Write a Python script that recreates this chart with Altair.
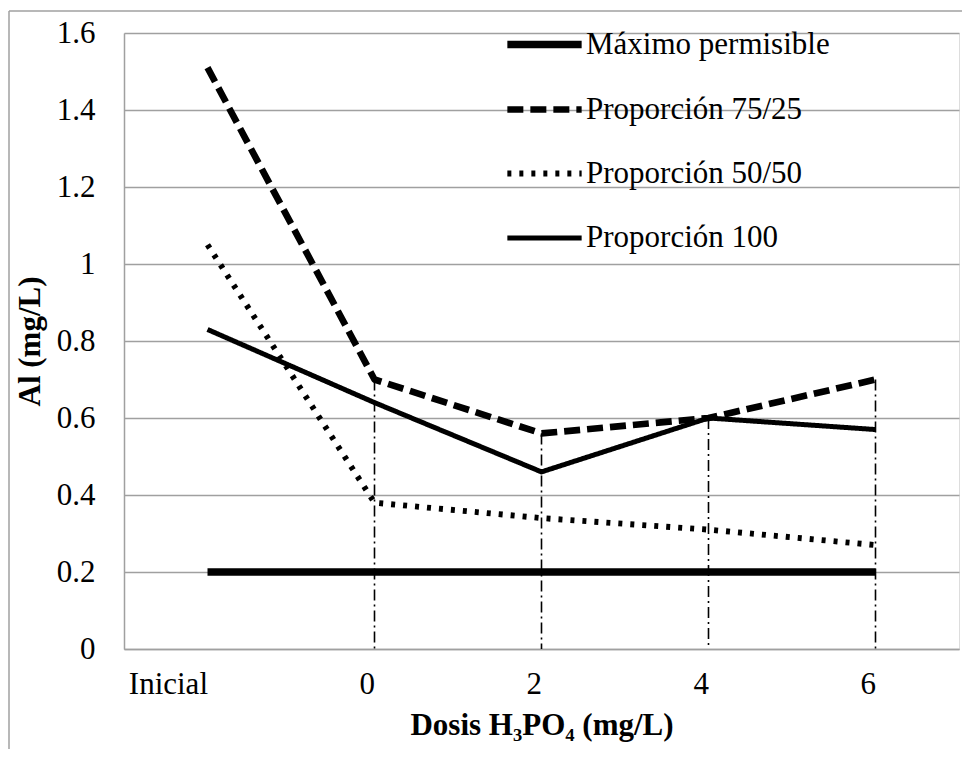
import altair as alt
import pandas as pd

categorias = ["Inicial", "0", "2", "4", "6"]
series = ["Máximo permisible", "Proporción 75/25", "Proporción 50/50", "Proporción 100"]
maximo = [0.2, 0.2, 0.2, 0.2, 0.2]
p7525 = [1.51, 0.70, 0.56, 0.60, 0.70]
p5050 = [1.05, 0.38, 0.34, 0.31, 0.27]
p100 = [0.83, 0.64, 0.46, 0.60, 0.57]
y_ticks = [0, 0.2, 0.4, 0.6, 0.8, 1, 1.2, 1.4, 1.6]

FONT = "Liberation Serif"
FS = 31
GRAY = "#a0a0a0"

rows = []
for s, vals in zip(series, [maximo, p7525, p5050, p100]):
    for c, v in zip(categorias, vals):
        rows.append({"dosis": c, "serie": s, "al": v})
df = pd.DataFrame(rows)

drop_df = pd.DataFrame({
    "dosis": categorias[1:],
    "tope": [max(a, b, c, d) for a, b, c, d in zip(maximo[1:], p7525[1:], p5050[1:], p100[1:])],
})

x_enc = alt.X(
    "dosis:N", sort=categorias,
    scale=alt.Scale(type="point", padding=0.5, domain=categorias),
    axis=alt.Axis(title="Dosis H₃PO₄ (mg/L)", labelAngle=0, grid=False, ticks=False,
                  domain=True, domainColor=GRAY, domainWidth=1.5,
                  labelFont=FONT, labelFontSize=FS, labelColor="black", labelPadding=35,
                  titleFont=FONT, titleFontSize=FS, titleFontWeight="bold", titleColor="black",
                  titlePadding=11),
)
y_enc = alt.Y(
    "al:Q", scale=alt.Scale(domain=[0, 1.6], nice=False, zero=True),
    axis=alt.Axis(title="Al (mg/L)", values=y_ticks, labelExpr="format(datum.value, '~g')",
                  grid=True, gridColor=GRAY, gridWidth=1.5, ticks=False,
                  domain=True, domainColor=GRAY, domainWidth=1.5,
                  labelFont=FONT, labelFontSize=FS, labelColor="black", labelPadding=29,
                  titleFont=FONT, titleFontSize=FS, titleFontWeight="bold", titleColor="black",
                  titlePadding=10),
)

legend = alt.Legend(
    title=None, orient="none", legendX=398, legendY=-11, padding=0,
    symbolType="M-2,0H2", symbolSize=1380, symbolStrokeColor="black",
    labelFont=FONT, labelFontSize=FS, labelColor="black", labelOffset=19,
    labelLimit=400, rowPadding=27.5,
)

lines = alt.Chart(df).mark_line(color="black", strokeJoin="round").encode(
    x=x_enc,
    y=y_enc,
    strokeDash=alt.StrokeDash(
        "serie:N", sort=series,
        scale=alt.Scale(domain=series, range=[[1, 0], [16, 7], [4, 8], [1, 0]]),
        legend=legend),
    strokeWidth=alt.StrokeWidth(
        "serie:N", sort=series,
        scale=alt.Scale(domain=series, range=[7.5, 5, 4, 2]),
        legend=legend),
    detail="serie:N",
)

drops = alt.Chart(drop_df).mark_rule(color="black", strokeWidth=1.6, strokeDash=[11, 4, 2, 4]).encode(
    x=alt.X("dosis:N", sort=categorias),
    y=alt.Y("tope:Q"),
    y2=alt.datum(0),
)

border_left = alt.Chart(alt.Data(values=[{}])).mark_rule(color=GRAY, strokeWidth=1.5).encode(
    x=alt.value(-115), y=alt.value(-22), y2=alt.value(716)
)
border_top = alt.Chart(alt.Data(values=[{}])).mark_rule(color=GRAY, strokeWidth=1.5).encode(
    x=alt.value(-115), x2=alt.value(838), y=alt.value(-22)
)

chart = alt.layer(drops, lines, border_left, border_top).properties(
    width=835, height=616,
    padding={"left": 0, "top": 2, "right": 0, "bottom": 0},
).configure_view(stroke=None).configure(background="white", font=FONT)

chart.save("out.html", embed_options={"renderer": "svg", "actions": False})
